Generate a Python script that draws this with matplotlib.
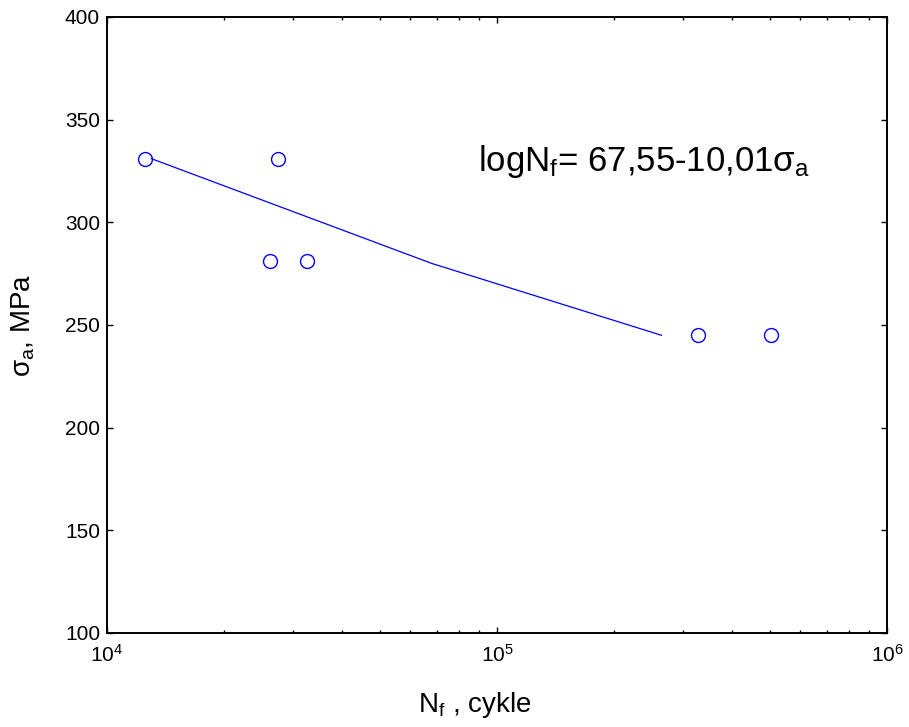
import matplotlib
matplotlib.use("Agg")
import matplotlib.pyplot as plt
from matplotlib.ticker import LogLocator, NullFormatter

plt.rcParams['font.family'] = ['Liberation Sans', 'DejaVu Sans']
plt.rcParams['mathtext.fontset'] = 'custom'
plt.rcParams['mathtext.rm'] = 'Liberation Sans'
plt.rcParams['mathtext.it'] = 'Liberation Sans'

# dane pomiarowe
nf_exp = [1.25e4, 2.75e4, 2.62e4, 3.25e4, 3.28e5, 5.05e5]
sa_exp = [331, 331, 281, 281, 245, 245]

# linia regresji
nf_fit = [1.3e4, 6.8e4, 2.64e5]
sa_fit = [331, 280, 245]

fig = plt.figure(figsize=(9.09, 7.27), dpi=100)
ax = fig.add_axes([107/909, 94/727, 780/909, 616/727])

ax.plot(nf_fit, sa_fit, color='blue', lw=0.9)
ax.plot(nf_exp, sa_exp, 'o', mfc='none', mec='blue', ms=10, mew=1.0)

ax.set_xscale('log')
ax.set_xlim(1e4, 1e6)
ax.set_ylim(100, 400)
ax.set_yticks(range(100, 401, 50))
ax.xaxis.set_minor_locator(LogLocator(base=10, subs=range(2, 10)))
ax.xaxis.set_minor_formatter(NullFormatter())

ax.tick_params(which='both', direction='in', top=True, right=True, labelsize=15, width=1.0)
ax.tick_params(which='major', length=4.5)
ax.tick_params(which='minor', length=2.5)
ax.tick_params(axis='x', pad=8)
ax.tick_params(axis='y', pad=5)
for s in ax.spines.values():
    s.set_linewidth(1.4)

ax.set_xlabel('N$_\\mathregular{f}$ , cykle', fontsize=20)
ax.xaxis.set_label_coords(0.472, -0.093)
ax.set_ylabel('σ$_\\mathregular{a}$, MPa', fontsize=20, labelpad=20)

ax.text(0.475, 0.765, 'logN$_\\mathregular{f}$= 67,55-10,01σ$_\\mathregular{a}$',
        transform=ax.transAxes, fontsize=25, va='center', ha='left')

fig.savefig('out.png', dpi=100)
